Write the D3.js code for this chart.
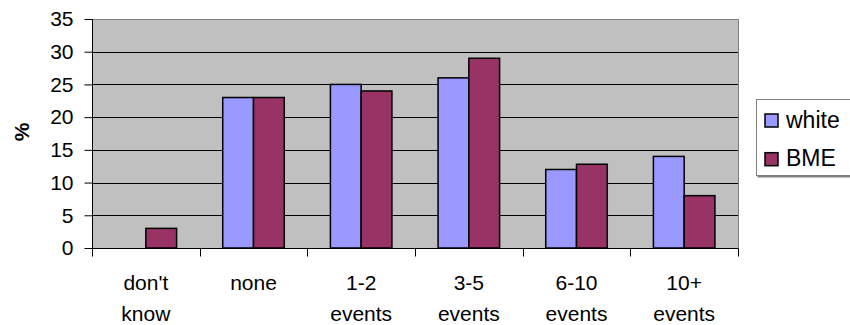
<!DOCTYPE html>
<html>
<head>
<meta charset="utf-8">
<script src="https://cdn.jsdelivr.net/npm/d3@7"></script>
<style>
  html, body { margin: 0; padding: 0; background: #fff; }
  svg { display: block; font-family: "Liberation Sans", Arial, sans-serif; }
</style>
</head>
<body>
<svg id="chart" width="850" height="325"></svg>
<script>
// Number of events attended, by group (% of respondents)
const categories = [["don't", "know"], ["none"], ["1-2", "events"], ["3-5", "events"], ["6-10", "events"], ["10+", "events"]];
const seriesNames = ["white", "BME"];
const whiteValues = [0, 23, 25, 26, 12, 14];
const bmeValues = [3, 23, 24, 29, 12.8, 8];
const yTicks = [0, 5, 10, 15, 20, 25, 30, 35];
const seriesColors = ["#9999ff", "#993366"];

const svg = d3.select("#chart");
const plot = { left: 92, right: 738, top: 19, bottom: 248 };

const catKeys = categories.map((c, i) => i);
const x0 = d3.scaleBand().domain(catKeys).range([plot.left, plot.right]).padding(0);
const x1 = d3.scaleBand().domain(seriesNames).range([0, x0.bandwidth()])
  .paddingInner(0).paddingOuter(0.75);
const y = d3.scaleLinear().domain([0, 35]).range([plot.bottom, plot.top]);

// plot background
svg.append("rect")
  .attr("x", plot.left).attr("y", plot.top)
  .attr("width", plot.right - plot.left).attr("height", plot.bottom - plot.top)
  .attr("fill", "#c0c0c0");

// horizontal gridlines
svg.append("g").selectAll("line")
  .data(yTicks.filter(t => t > 0 && t < 35))
  .join("line")
  .attr("x1", plot.left).attr("x2", plot.right)
  .attr("y1", d => Math.round(y(d)) + 0.5).attr("y2", d => Math.round(y(d)) + 0.5)
  .attr("stroke", "#000").attr("stroke-width", 1);

// top and right frame
svg.append("path")
  .attr("d", `M${plot.left},${plot.top + 0.5}H${plot.right + 0.5}V${plot.bottom}`)
  .attr("fill", "none").attr("stroke", "#808080").attr("stroke-width", 1);

// bars
const rows = catKeys.map(i => ({ i, values: [whiteValues[i], bmeValues[i]] }));
svg.append("g").selectAll("g")
  .data(rows)
  .join("g")
  .attr("transform", d => `translate(${x0(d.i)},0)`)
  .selectAll("rect")
  .data(d => d.values.map((v, k) => ({ name: seriesNames[k], v, k })).filter(e => e.v > 0))
  .join("rect")
  .attr("x", d => x1(d.name))
  .attr("y", d => y(d.v))
  .attr("width", x1.bandwidth())
  .attr("height", d => y(0) - y(d.v))
  .attr("fill", d => seriesColors[d.k])
  .attr("stroke", "#000").attr("stroke-width", 1.5);

// y axis
const yAxis = d3.axisLeft(y).tickValues(yTicks).tickSize(8).tickPadding(11).tickFormat(d3.format("d"));
const gy = svg.append("g").attr("transform", `translate(${plot.left + 0.5},0)`).call(yAxis);
gy.select(".domain").attr("stroke", "#000").attr("d", `M0,${plot.top}V${plot.bottom}`);
gy.selectAll(".tick line").attr("stroke", "#000");
gy.selectAll(".tick text").attr("font-size", 21).attr("fill", "#000")
  .attr("font-family", "Liberation Sans, Arial, sans-serif");

// x axis: ticks at category boundaries
const gx = svg.append("g").attr("transform", `translate(0,${plot.bottom + 0.5})`);
gx.append("line").attr("x1", plot.left).attr("x2", plot.right + 0.5)
  .attr("stroke", "#000");
const boundaries = catKeys.map(i => x0(i)).concat([plot.right]);
gx.selectAll("line.tick").data(boundaries).join("line")
  .attr("class", "tick")
  .attr("x1", d => Math.round(d) + 0.5).attr("x2", d => Math.round(d) + 0.5)
  .attr("y1", 0).attr("y2", 8)
  .attr("stroke", "#000");

// category labels
const labels = svg.append("g").selectAll("text").data(rows).join("text")
  .attr("x", d => x0(d.i) + x0.bandwidth() / 2)
  .attr("y", 290)
  .attr("text-anchor", "middle")
  .attr("font-size", 21)
  .attr("fill", "#000");
labels.selectAll("tspan").data(d => categories[d.i]).join("tspan")
  .attr("x", function () { return d3.select(this.parentNode).attr("x"); })
  .attr("dy", (d, k) => k === 0 ? 0 : 31)
  .text(d => d);

// y axis title
svg.append("text")
  .attr("transform", "translate(29,132) rotate(-90)")
  .attr("text-anchor", "middle")
  .attr("font-size", 21).attr("font-weight", "bold")
  .text("%");

// legend
const legend = svg.append("g");
legend.append("rect")
  .attr("x", 757.5).attr("y", 100.5).attr("width", 100).attr("height", 77)
  .attr("fill", "#808080");
legend.append("rect")
  .attr("x", 756.5).attr("y", 99.5).attr("width", 100).attr("height", 76)
  .attr("fill", "#fff").attr("stroke", "#808080");
const items = legend.selectAll("g.item").data(seriesNames).join("g")
  .attr("class", "item")
  .attr("transform", (d, k) => `translate(765,${114 + k * 38.7})`);
items.append("rect")
  .attr("width", 13).attr("height", 13)
  .attr("fill", (d, k) => seriesColors[k])
  .attr("stroke", "#000").attr("stroke-width", 1.5);
items.append("text")
  .attr("x", 21).attr("y", 13.5)
  .attr("font-size", 23).attr("fill", "#000")
  .text(d => d);
</script>
</body>
</html>
